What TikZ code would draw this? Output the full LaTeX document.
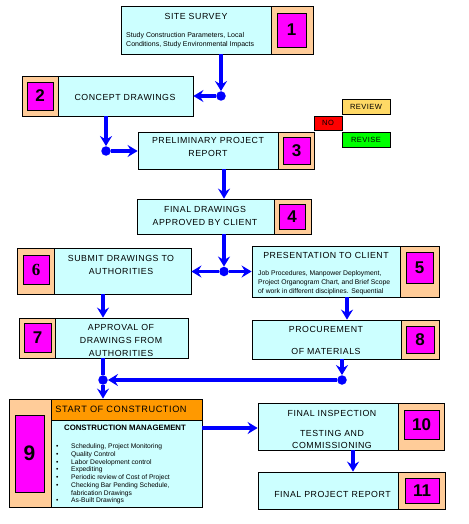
\documentclass[tikz,border=0pt]{standalone}
\usepackage{fontspec}
\setmainfont{Liberation Sans}
\newfontfamily\capsfont[LetterSpace=6]{Liberation Sans}
\newfontfamily\serifnum{Liberation Serif}
\definecolor{fcCyan}{RGB}{204,255,255}
\definecolor{fcPeach}{RGB}{255,204,153}
\definecolor{fcMagenta}{RGB}{255,0,255}
\definecolor{fcOrange}{RGB}{255,153,0}
\definecolor{fcBlue}{RGB}{0,0,255}
\definecolor{fcRed}{RGB}{255,0,0}
\definecolor{fcYellow}{RGB}{255,217,102}
\definecolor{fcGreen}{RGB}{0,255,0}
\usepackage{tikz}
\usetikzlibrary{shapes,arrows.meta,positioning}

\begin{document}
\begin{tikzpicture}[x=1pt,y=-1pt,
    stagebox/.style={draw=black, line width=0.8pt, fill=fcCyan, inner sep=0pt},
    tagbox/.style={draw=black, line width=0.8pt, fill=fcPeach, inner sep=0pt},
    numbox/.style={draw=black, line width=0.8pt, fill=fcMagenta, inner sep=0pt,
        font=\fontsize{17}{17}\selectfont\bfseries},
    flagbox/.style={draw=black, line width=0.8pt, inner sep=0pt, minimum height=15pt,
        font=\fontsize{7.5}{8}\selectfont\capsfont},
    title/.style={inner sep=0pt, align=center, font=\fontsize{8.8}{13}\selectfont\capsfont},
    detail/.style={inner sep=0pt, align=left, font=\fontsize{7}{9}\selectfont},
    flow/.style={draw=fcBlue, line width=3.3pt},
    tip/.style={-{Stealth[length=10pt,width=12pt,inset=3.5pt]}},
    joint/.style={circle, fill=fcBlue, inner sep=0pt, minimum size=9.5pt}]

    \useasboundingbox (0,0) rectangle (468,524);

    % 1 site survey
    \node[stagebox, minimum width=150pt, minimum height=48pt] (s1) at (196,30) {};
    \node[tagbox, minimum width=42pt, minimum height=48pt] (t1) at (292,30) {};
    \node[numbox, minimum width=29pt, minimum height=34pt] (n1) at (291.5,30) {1};
    \node[title] (s1-title) at (196,16) {SITE SURVEY};
    \node[detail, anchor=west] (s1-text) at (126,40) {Study Construction Parameters, Local\\Conditions, Study Environmental Impacts};

    % 2 concept drawings
    \node[stagebox, minimum width=135pt, minimum height=40pt] (s2) at (125.5,96) {};
    \node[tagbox, minimum width=36pt, minimum height=40pt] (t2) at (40,96) {};
    \node[numbox, minimum width=26pt, minimum height=28pt] (n2) at (40,96) {2};
    \node[title] (s2-title) at (125,97) {CONCEPT DRAWINGS};

    % 3 preliminary report
    \node[stagebox, minimum width=140pt, minimum height=37pt] (s3) at (208,150.5) {};
    \node[tagbox, minimum width=36pt, minimum height=37pt] (t3) at (296,150.5) {};
    \node[numbox, minimum width=27pt, minimum height=27pt] (n3) at (296.5,150.5) {3};
    \node[title] (s3-title) at (208,147) {PRELIMINARY PROJECT\\REPORT};
    \node[flagbox, fill=fcRed, minimum width=28pt, minimum height=14pt] (no) at (328,123) {NO};
    \node[flagbox, fill=fcYellow, minimum width=48pt] (review) at (366,106.5) {REVIEW};
    \node[flagbox, fill=fcGreen, minimum width=48pt] (revise) at (366,139.5) {REVISE};

    % 4 final drawings
    \node[stagebox, minimum width=137pt, minimum height=35pt] (s4) at (205.5,216.5) {};
    \node[tagbox, minimum width=37pt, minimum height=35pt] (t4) at (292.5,216.5) {};
    \node[numbox, minimum width=26pt, minimum height=25pt] (n4) at (292,216.5) {4};
    \node[title] (s4-title) at (205,216) {FINAL DRAWINGS\\APPROVED BY CLIENT};

    % 5 presentation to client
    \node[stagebox, minimum width=148pt, minimum height=51pt] (s5) at (326,271.5) {};
    \node[tagbox, minimum width=39pt, minimum height=51pt] (t5) at (419.5,271.5) {};
    \node[numbox, minimum width=27pt, minimum height=31pt] (n5) at (419.5,267.5) {5};
    \node[title] (s5-title) at (326,255) {PRESENTATION TO CLIENT};
    \node[detail, anchor=west, font=\fontsize{6.8}{9}\selectfont] (s5-text) at (258,283) {Job Procedures, Manpower Deployment,\\Project Organogram Chart, and Brief Scope\\of work in different disciplines. Sequential};

    % 6 submit drawings
    \node[stagebox, minimum width=137pt, minimum height=46pt] (s6) at (122.5,271) {};
    \node[tagbox, minimum width=37pt, minimum height=46pt] (t6) at (35.5,271) {};
    \node[numbox, minimum width=26pt, minimum height=29pt, font=\fontsize{17}{17}\selectfont\serifnum\bfseries] (n6) at (36,269.5) {6};
    \node[title] (s6-title) at (121,264.5) {SUBMIT DRAWINGS TO\\AUTHORITIES};

    % 7 approval
    \node[stagebox, minimum width=133pt, minimum height=40pt] (s7) at (121.5,338) {};
    \node[tagbox, minimum width=36pt, minimum height=40pt] (t7) at (37,338) {};
    \node[numbox, minimum width=27pt, minimum height=29pt] (n7) at (37.5,337.5) {7};
    \node[title] (s7-title) at (121,340) {APPROVAL OF\\DRAWINGS FROM\\AUTHORITIES};

    % 8 procurement
    \node[stagebox, minimum width=149pt, minimum height=39pt] (s8) at (326.5,339.5) {};
    \node[tagbox, minimum width=38pt, minimum height=39pt] (t8) at (420,339.5) {};
    \node[numbox, minimum width=28pt, minimum height=27pt] (n8) at (420,339.5) {8};
    \node[title, font=\fontsize{8.8}{22}\selectfont\capsfont] (s8-title) at (326,340) {PROCUREMENT\\OF MATERIALS};

    % 9 start of construction
    \node[tagbox, minimum width=42pt, minimum height=108pt] (t9) at (30,453) {};
    \node[numbox, minimum width=29pt, minimum height=77pt, font=\fontsize{21}{21}\selectfont\bfseries] (n9) at (29.5,453.5) {9};
    \node[stagebox, fill=fcOrange, minimum width=151pt, minimum height=21pt] (h9) at (126.5,409.5) {};
    \node[stagebox, minimum width=151pt, minimum height=87pt] (s9) at (126.5,463.5) {};
    \node[title, font=\fontsize{9.2}{11}\selectfont\capsfont] (h9-title) at (121,409) {START OF CONSTRUCTION};
    \node[inner sep=0pt, font=\fontsize{7.8}{8}\selectfont\bfseries] (s9-title) at (125,428) {CONSTRUCTION MANAGEMENT};
    \node[detail, anchor=north west, font=\fontsize{6.7}{7.75}\selectfont] (s9-list) at (56,443.5) {%
        \makebox[15pt][l]{\textbullet}Scheduling, Project Monitoring\\
        \makebox[15pt][l]{\textbullet}Quality Control\\
        \makebox[15pt][l]{\textbullet}Labor Development control\\
        \makebox[15pt][l]{\textbullet}Expediting\\
        \makebox[15pt][l]{\textbullet}Periodic review of Cost of Project\\
        \makebox[15pt][l]{\textbullet}Checking Bar Pending Schedule,\\
        \makebox[15pt][l]{}fabrication Drawings\\
        \makebox[15pt][l]{\textbullet}As-Built Drawings};

    % 10 final inspection
    \node[stagebox, minimum width=140pt, minimum height=47pt] (s10) at (328,426.5) {};
    \node[tagbox, minimum width=46pt, minimum height=47pt] (t10) at (421,426.5) {};
    \node[numbox, minimum width=35pt, minimum height=29pt] (n10) at (421.5,424.5) {10};
    \node[title] (s10-title) at (332,413) {FINAL INSPECTION};
    \node[title, font=\fontsize{8.8}{12}\selectfont\capsfont] (s10-text) at (332,439) {TESTING AND\\COMMISSIONING};

    % 11 final report
    \node[stagebox, minimum width=140pt, minimum height=37pt] (s11) at (328,490.5) {};
    \node[tagbox, minimum width=47pt, minimum height=37pt] (t11) at (421.5,490.5) {};
    \node[numbox, minimum width=34pt, minimum height=25pt] (n11) at (422,490.5) {11};
    \node[title] (s11-title) at (332.5,494) {FINAL PROJECT REPORT};

    % joints
    \node[joint] (d1) at (221,96) {};
    \node[joint] (d2) at (106,151) {};
    \node[joint] (d3) at (224,271.5) {};
    \node[joint] (d4) at (103,380) {};
    \node[joint] (d5) at (342,380) {};
    \coordinate (c9) at (202,428);

    % flow lines
    \draw[flow, tip] (s1.south -| d1) -- (d1.north);
    \draw[flow, tip] (d1) -- (s2.east |- d1);
    \draw[flow, tip] (s2.south -| d2) -- (d2.north);
    \draw[flow, tip] (d2) -- (s3.west |- d2);
    \draw[flow, tip] (s3.south -| d3) -- (s4.north -| d3);
    \draw[flow, tip] (s4.south -| d3) -- (d3.north);
    \draw[flow, tip] (d3) -- (s6.east |- d3);
    \draw[flow, tip] (d3) -- (s5.west |- d3);
    \draw[flow, tip] (s6.south -| d4) -- (s7.north -| d4);
    \draw[flow, tip] (s5.south -| 347,0) -- (s8.north -| 347,0);
    \draw[flow] (s7.south -| d4) -- (d4);
    \draw[flow, tip] (d4) -- (h9.north -| d4);
    \draw[flow, tip] (s8.south -| d5) -- (d5.north);
    \draw[flow, tip] (d5) -- (d4.east);
    \draw[flow, tip] (c9) -- (c9 -| s10.west);
    \draw[flow, tip] (s10.south -| 353,0) -- (s11.north -| 353,0);
\end{tikzpicture}
\end{document}
